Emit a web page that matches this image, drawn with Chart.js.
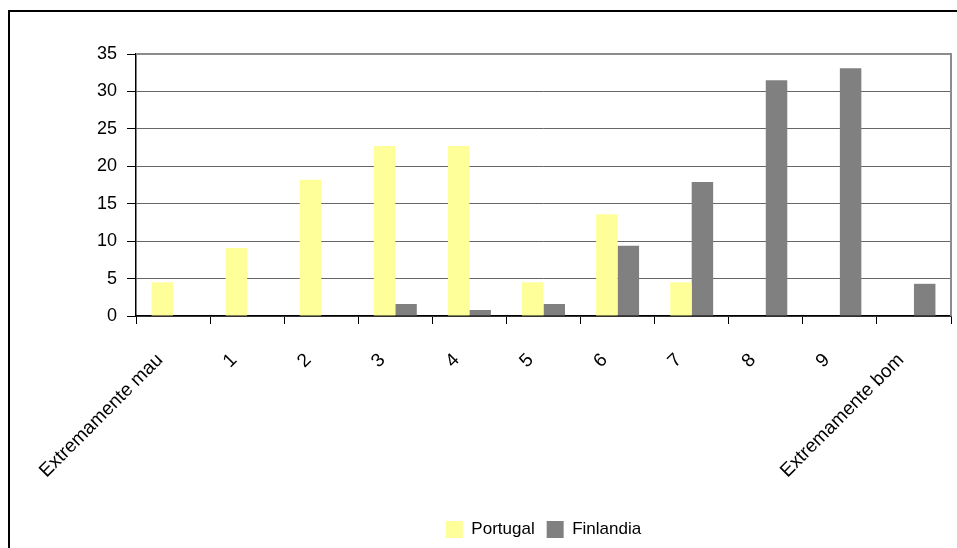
<!DOCTYPE html>
<html>
<head>
<meta charset="utf-8">
<script src="https://cdn.jsdelivr.net/npm/chart.js@4/dist/chart.umd.min.js"></script>
<style>
  html, body { margin: 0; padding: 0; background: #fff; overflow: hidden; width: 957px; height: 548px; }
  #frame { position: absolute; left: 8px; top: 10px; width: 960px; height: 560px; border-left: 2px solid #000; border-top: 2px solid #000; }
  #wrap { position: absolute; left: 10px; top: 12px; width: 947px; height: 536px; }
</style>
</head>
<body>
<div id="frame"></div>
<div id="wrap"><canvas id="c"></canvas></div>
<script>
const categories = ["Extremamente mau", "1", "2", "3", "4", "5", "6", "7", "8", "9", "Extremamente bom"];
const portugal = [4.5, 9.1, 18.2, 22.7, 22.7, 4.5, 13.6, 4.5, 0, 0, 0];
const finlandia = [0, 0, 0, 1.6, 0.8, 1.6, 9.4, 17.9, 31.5, 33.1, 4.3];
const yTicks = [0, 5, 10, 15, 20, 25, 30, 35];

const FONT = "'Liberation Sans', Arial, sans-serif";

const plotBorder = {
  id: 'plotBorder',
  afterDatasetsDraw(chart) {
    const a = chart.chartArea, ctx = chart.ctx;
    ctx.save();
    ctx.strokeStyle = '#8c8c8c';
    ctx.lineWidth = 2;
    ctx.beginPath();
    ctx.moveTo(a.left, a.top);
    ctx.lineTo(a.right, a.top);
    ctx.lineTo(a.right, a.bottom);
    ctx.stroke();
    ctx.restore();
  }
};

new Chart(document.getElementById('c'), {
  type: 'bar',
  data: {
    labels: categories,
    datasets: [
      { label: 'Portugal', data: portugal, backgroundColor: '#FFFF99', borderWidth: 0 },
      { label: 'Finlandia', data: finlandia, backgroundColor: '#808080', borderWidth: 0 }
    ]
  },
  options: {
    responsive: true,
    maintainAspectRatio: false,
    animation: false,
    layout: { padding: { left: 0, top: 42, right: 6, bottom: 0 } },
    datasets: { bar: { categoryPercentage: 0.58, barPercentage: 1.0 } },
    plugins: {
      legend: {
        position: 'bottom',
        fullSize: false,
        labels: {
          font: { family: FONT, size: 17 },
          color: '#000',
          boxWidth: 17,
          boxHeight: 17,
          padding: 12
        }
      },
      tooltip: { enabled: false }
    },
    scales: {
      x: {
        grid: { display: true, drawOnChartArea: false, drawTicks: true, tickLength: 8, color: '#000', offset: true },
        border: { display: true, color: '#000', width: 1.5 },
        ticks: {
          font: { family: FONT, size: 19 },
          color: '#000',
          minRotation: 45,
          maxRotation: 45,
          autoSkip: false,
          padding: 25,
          labelOffset: -13
        },
        afterFit(scale) { scale.height = 193; }
      },
      y: {
        min: 0,
        max: 35,
        afterBuildTicks(scale) { scale.ticks = yTicks.map(v => ({ value: v })); },
        grid: {
          color: '#666',
          lineWidth: 1,
          tickLength: 9,
          tickColor: '#000',
          drawTicks: true
        },
        border: { display: true, color: '#000', width: 1.5 },
        ticks: {
          font: { family: FONT, size: 18 },
          color: '#000',
          padding: 10
        },
        afterFit(scale) { scale.width = 126; }
      }
    }
  },
  plugins: [plotBorder]
});
</script>
</body>
</html>
